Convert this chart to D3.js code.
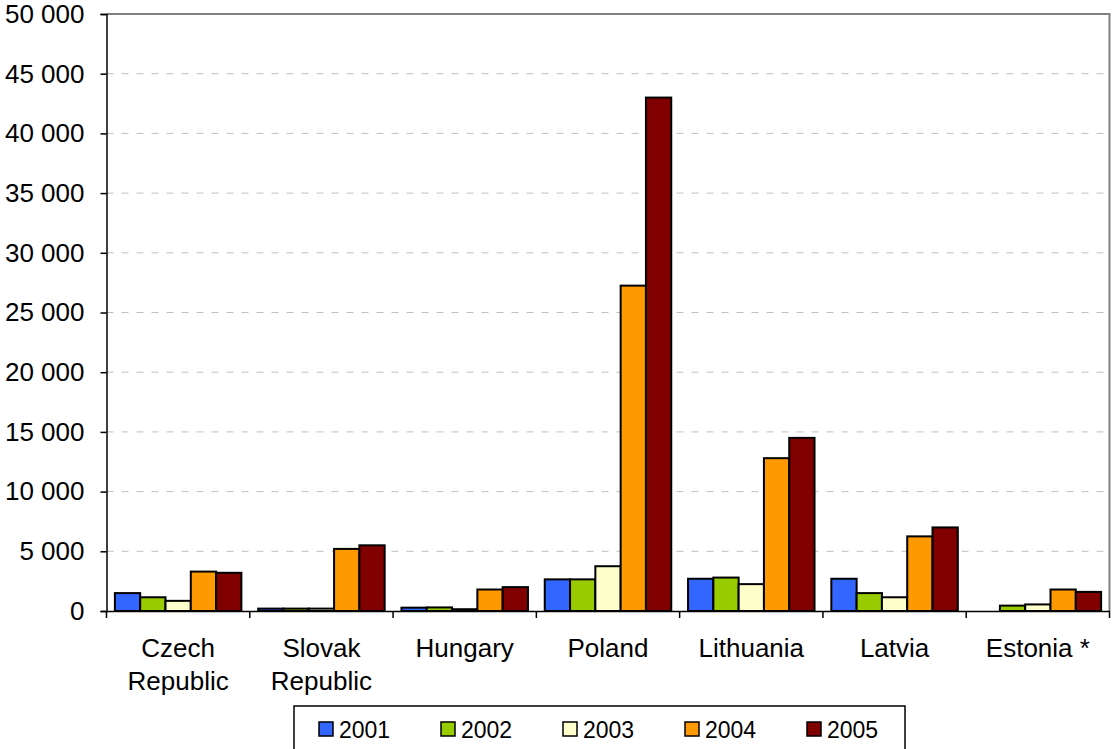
<!DOCTYPE html>
<html><head><meta charset="utf-8">
<script src="https://cdn.jsdelivr.net/npm/d3@7"></script>
<style>
html,body{margin:0;padding:0;background:#fff;}
svg{display:block;font-family:"Liberation Sans",Arial,sans-serif;}
</style></head>
<body>
<svg id="chart" width="1112" height="749"></svg>
<script>
const categories = [["Czech","Republic"],["Slovak","Republic"],["Hungary"],["Poland"],["Lithuania"],["Latvia"],["Estonia *"]];
const years = ["2001","2002","2003","2004","2005"];
const colors = ["#3366FF","#99CC00","#FFFFCC","#FF9900","#800000"];
const v2001 = [1500, 200, 280, 2650, 2700, 2700, null];
const v2002 = [1150, 200, 300, 2650, 2800, 1500, 450];
const v2003 = [850, 200, 150, 3750, 2250, 1150, 550];
const v2004 = [3300, 5200, 1800, 27250, 12800, 6250, 1800];
const v2005 = [3200, 5500, 2000, 43000, 14500, 7000, 1600];
const series = [v2001, v2002, v2003, v2004, v2005];
const yTicks = [0,5000,10000,15000,20000,25000,30000,35000,40000,45000,50000];

const svg = d3.select("#chart");
const mLeft = 106.5, mRight = 1109.5, mTop = 14, mBottom = 611;
const catKeys = categories.map(c => c.join(" "));
const x0 = d3.scaleBand().domain(catKeys).range([mLeft, mRight]).padding(0);
const x1 = d3.scaleBand().domain(years).range([8.4, x0.bandwidth() - 8.4]).padding(0);
const y = d3.scaleLinear().domain([0, 50000]).range([mBottom, mTop]);
const fmt = v => d3.format(",")(v).replace(/,/g, " ");

// gridlines
svg.append("g").selectAll("line").data(yTicks.filter(t => t > 0 && t < 50000)).join("line")
  .attr("x1", mLeft).attr("x2", mRight).attr("y1", d => y(d)).attr("y2", d => y(d))
  .attr("stroke", "#c0c0c0").attr("stroke-width", 1).attr("stroke-dasharray", "7,8");

// plot border top and right
svg.append("path").attr("d", `M${mLeft},${mTop}H${mRight}V${mBottom}`)
  .attr("fill", "none").attr("stroke", "#808080").attr("stroke-width", 2);

// bars
const groups = svg.append("g").selectAll("g").data(catKeys).join("g")
  .attr("transform", d => `translate(${x0(d)},0)`);
groups.selectAll("rect").data((d, i) => years.map((yr, j) => ({yr, j, v: series[j][i]})).filter(o => o.v != null && o.v > 0))
  .join("rect")
  .attr("x", d => x1(d.yr)).attr("width", x1.bandwidth())
  .attr("y", d => y(d.v)).attr("height", d => mBottom - y(d.v))
  .attr("fill", d => colors[d.j]).attr("stroke", "#000").attr("stroke-width", 2);

// y axis
const yAxis = d3.axisLeft(y).tickValues(yTicks).tickFormat(fmt).tickSize(6).tickPadding(16);
const gy = svg.append("g").attr("transform", `translate(${mLeft},0)`).call(yAxis);
gy.select(".domain").attr("stroke", "#000").attr("stroke-width", 1.5);
gy.selectAll(".tick line").attr("stroke", "#000").attr("stroke-width", 1.5);
gy.selectAll("text").attr("font-size", 26).attr("fill", "#000").attr("font-family", "Liberation Sans, Arial, sans-serif");

// x axis
const xAxis = d3.axisBottom(x0).tickValues([]).tickSizeOuter(0);
const gx = svg.append("g").attr("transform", `translate(0,${mBottom})`).call(xAxis);
gx.select(".domain").attr("stroke", "#000").attr("stroke-width", 1.5);
const boundaries = catKeys.map(k => x0(k)).concat([mRight]);
gx.selectAll(".bt").data(boundaries).join("line").attr("class", "bt")
  .attr("x1", d => d).attr("x2", d => d).attr("y1", 0).attr("y2", 7)
  .attr("stroke", "#000").attr("stroke-width", 1.5);
const lab = svg.append("g").selectAll("text").data(categories).join("text")
  .attr("x", (d, i) => x0(catKeys[i]) + x0.bandwidth() / 2)
  .attr("y", 657).attr("text-anchor", "middle").attr("font-size", 26).attr("fill", "#000");
lab.selectAll("tspan").data(d => d).join("tspan")
  .attr("x", function() { return d3.select(this.parentNode).attr("x"); })
  .attr("dy", (d, i) => i === 0 ? 0 : 33).text(d => d);

// legend
svg.append("rect").attr("x", 294).attr("y", 706).attr("width", 611).attr("height", 60)
  .attr("fill", "#fff").attr("stroke", "#000").attr("stroke-width", 1.5);
const lx = d3.scaleBand().domain(years).range([319, 319 + 122 * 5]);
const li = svg.append("g").selectAll("g").data(years).join("g")
  .attr("transform", d => `translate(${lx(d)},0)`);
li.append("rect").attr("x", 0).attr("y", 722).attr("width", 14).attr("height", 14)
  .attr("fill", (d, i) => colors[i]).attr("stroke", "#000").attr("stroke-width", 1.5);
li.append("text").attr("x", 20).attr("y", 738).attr("font-size", 23).attr("fill", "#000").text(d => d);
</script>
</body></html>
